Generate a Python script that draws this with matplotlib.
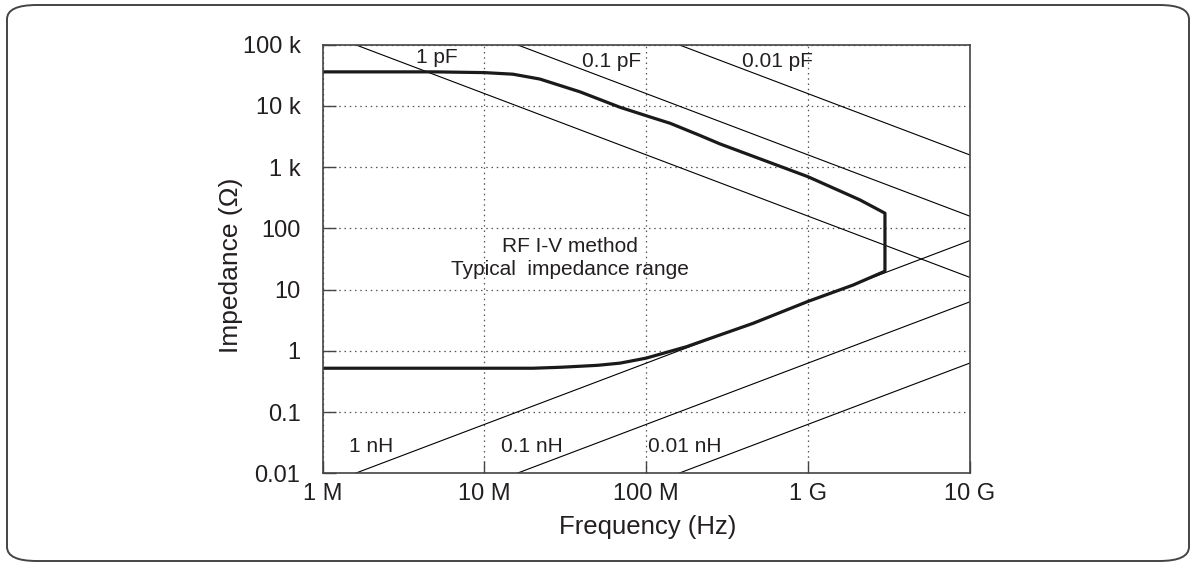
import matplotlib
matplotlib.use("Agg")
import matplotlib.pyplot as plt
import numpy as np
from matplotlib.patches import FancyBboxPatch

plt.rcParams['font.family'] = ['Liberation Sans', 'DejaVu Sans']

# Data
x_ticks = [1e6, 1e7, 1e8, 1e9, 1e10]
x_ticklabels = ["1 M", "10 M", "100 M", "1 G", "10 G"]
y_ticks = [0.01, 0.1, 1, 10, 100, 1e3, 1e4, 1e5]
y_ticklabels = ["0.01", "0.1", "1", "10", "100", "1 k", "10 k", "100 k"]

cap_values = [1e-12, 1e-13, 1e-14]
cap_labels = ["1 pF", "0.1 pF", "0.01 pF"]
ind_values = [1e-9, 1e-10, 1e-11]
ind_labels = ["1 nH", "0.1 nH", "0.01 nH"]

upper_f = [1e6, 5e6, 1e7, 1.5e7, 2.2e7, 3.9e7, 6.9e7, 1.06e8, 1.41e8, 2.15e8, 2.86e8, 1e9, 2.1e9, 3e9]
upper_z = [36e3, 36e3, 35e3, 33e3, 27.5e3, 17e3, 9.5e3, 6.6e3, 5.2e3, 3.3e3, 2.4e3, 700, 292, 177]
lower_f = [1e6, 2e7, 3e7, 5e7, 6.9e7, 1e8, 1.78e8, 4.6e8, 1e9, 1.91e9, 3e9]
lower_z = [0.52, 0.52, 0.54, 0.58, 0.63, 0.76, 1.17, 2.82, 6.4, 11.9, 20]

TXT = '#231f20'

fig = plt.figure(figsize=(11.96, 5.67), dpi=100)
ax = fig.add_axes([322.7/1196, 1 - 473.3/567, (969.5-322.7)/1196, (473.3-44.7)/567])

f = np.logspace(6, 10, 200)
for C in cap_values:
    ax.plot(f, 1/(2*np.pi*f*C), color='black', lw=0.8)
for L in ind_values:
    ax.plot(f, 2*np.pi*f*L, color='black', lw=0.8)

# Bold range curve
bf = upper_f + lower_f[::-1]
bz = upper_z + lower_z[::-1]
ax.plot(bf, bz, color='#1a1a1a', lw=2.3, solid_joinstyle='round')

ax.set_xscale('log')
ax.set_yscale('log')
ax.set_xlim(1e6, 1e10)
ax.set_ylim(0.01, 1e5)
ax.set_xticks(x_ticks)
ax.set_xticklabels(x_ticklabels)
ax.set_yticks(y_ticks)
ax.set_yticklabels(y_ticklabels)
ax.minorticks_off()
ax.tick_params(axis='both', direction='in', length=9, width=1, labelsize=17,
               colors='#444444', labelcolor=TXT)
ax.tick_params(axis='x', pad=7)
ax.tick_params(axis='y', pad=16)
ax.grid(True, which='major', color='#555555', linestyle=(0, (1.2, 3)), lw=0.9)
for s in ax.spines.values():
    s.set_color('#444444')
    s.set_linewidth(1.2)

ax.set_xlabel("Frequency (Hz)", fontsize=18.5, color=TXT)
ax.xaxis.set_label_coords(0.502, (473.3-527)/428.6)
ax.xaxis.label.set_va('center')
ax.set_ylabel("Impedance (Ω)", fontsize=19, color=TXT)
ax.yaxis.set_label_coords((231-322.7)/646.8, (473.3-265)/428.6)
ax.yaxis.label.set_va('center')

# Labels
cap_pos = [(5.09e6, 6.2e4), (6.12e7, 5.26e4), (6.45e8, 5.26e4)]
ind_pos = [(1.99e6, 0.0269), (1.96e7, 0.0269), (1.74e8, 0.0269)]
for (x, y), t in zip(cap_pos, cap_labels):
    ax.text(x, y, t, fontsize=15, ha='center', va='center', color=TXT)
for (x, y), t in zip(ind_pos, ind_labels):
    ax.text(x, y, t, fontsize=15, ha='center', va='center', color=TXT)

ax.text(3.4e7, 50, "RF I-V method", fontsize=15, ha='center', va='center', color=TXT)
ax.text(3.4e7, 21, "Typical  impedance range", fontsize=15, ha='center', va='center', color=TXT)

# Outer rounded border
border = FancyBboxPatch((7/1196, 1 - 561/567), (1189-7)/1196, (561-5)/567,
                        boxstyle="round,pad=0,rounding_size=0.025",
                        transform=fig.transFigure, fill=False, ec='#444444', lw=1.4)
fig.patches.append(border)

fig.savefig("out.png", dpi=100)
